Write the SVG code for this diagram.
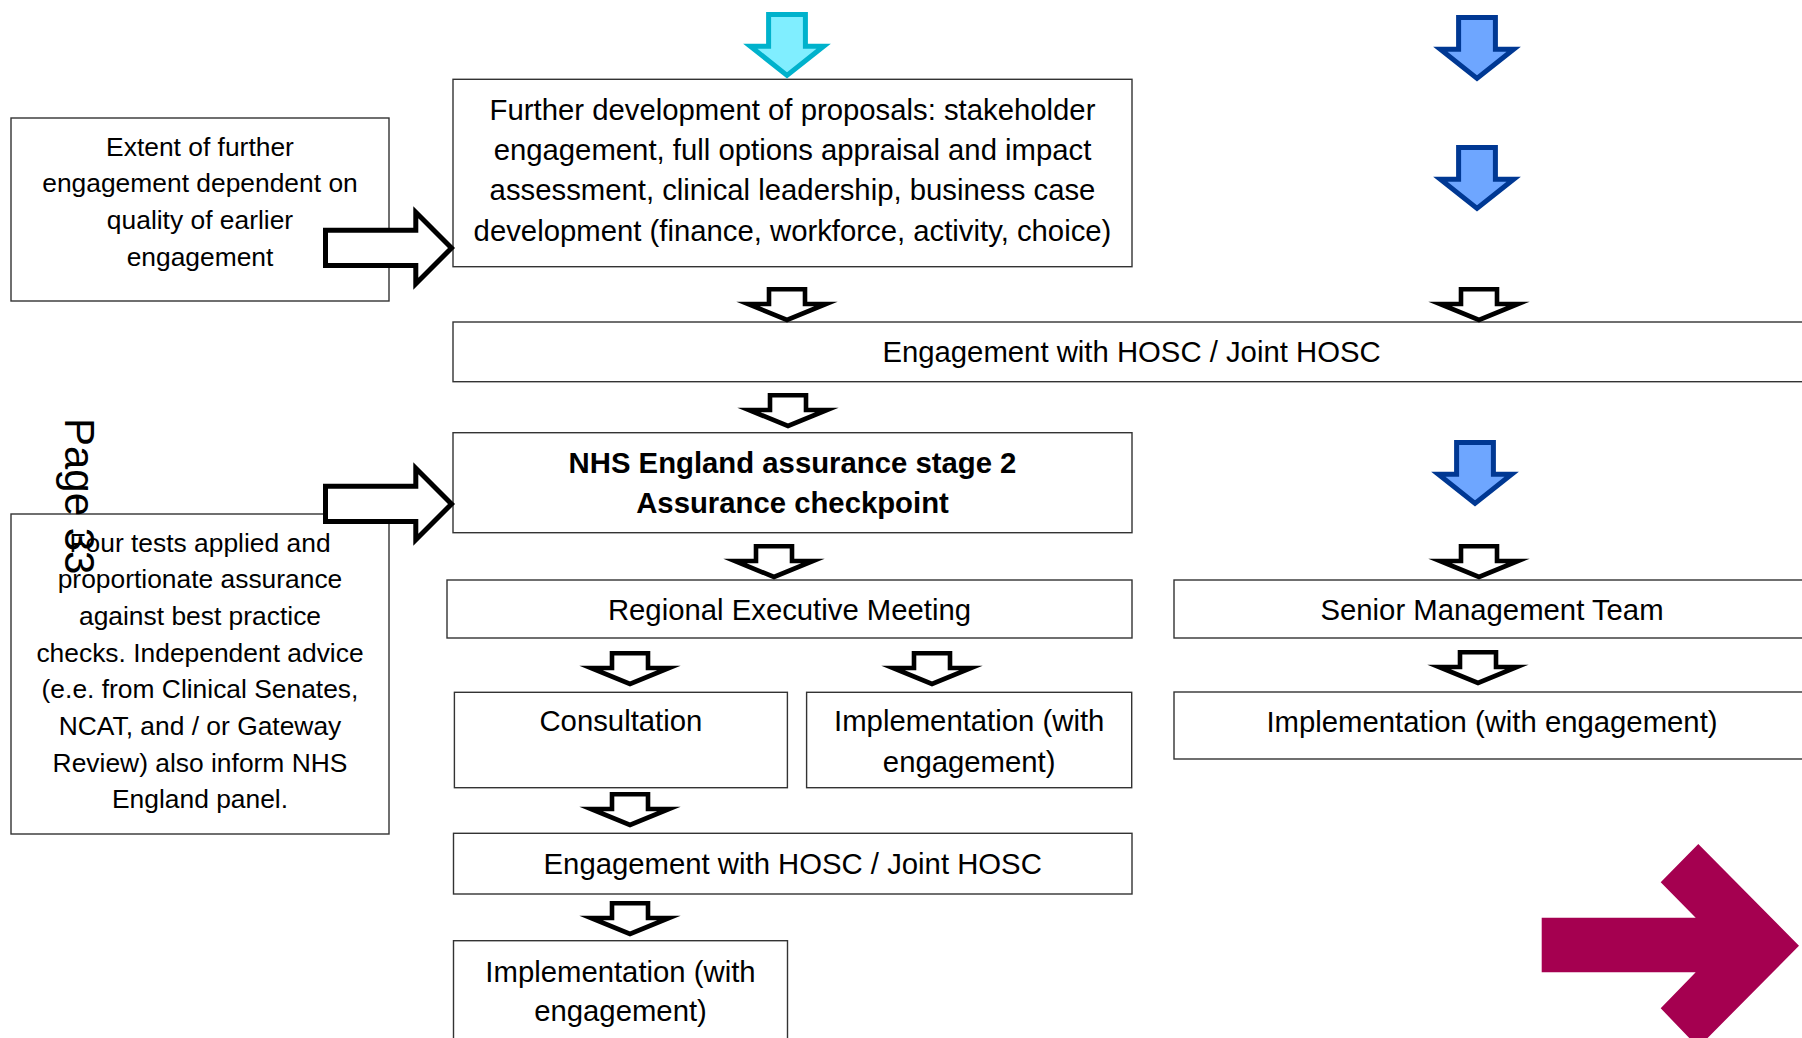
<svg xmlns="http://www.w3.org/2000/svg" xmlns:xlink="http://www.w3.org/1999/xlink" width="1802" height="1038" viewBox="0 0 1802 1038">
<style>
.box{fill:#fff;stroke:#333;stroke-width:1.4}
.t{font-family:"Liberation Sans",Arial,sans-serif;font-size:29.3px;fill:#000;text-anchor:middle}
.s{font-family:"Liberation Sans",Arial,sans-serif;font-size:26.4px;fill:#000;text-anchor:middle}
.b{font-weight:bold}
.ha{fill:#fff;stroke:#000;stroke-width:4.6;stroke-miterlimit:8}
.ra{fill:#fff;stroke:#000;stroke-width:5;stroke-miterlimit:8}
.blue{fill:#6EA6FF;stroke:#003893;stroke-width:5;stroke-miterlimit:8}
.cyan{fill:#80EEFF;stroke:#00B2CC;stroke-width:5;stroke-miterlimit:8}
.mag{fill:#A50050}
</style>
<defs>
<path id="hollow" d="M-18,2.3 H18 V17 H39 L0,33 L-39,17 H-18 Z"/>
<path id="big" d="M-18.4,2.5 H18.4 V34.2 H36.7 L0,63.4 L-36.7,34.2 H-18.4 Z"/>
<path id="right" d="M-126,-17.8 H-35.7 V-35.8 L0,0 L-35.7,35.8 V17.5 H-126 Z"/>
</defs>
<rect width="1802" height="1038" fill="#fff"/>

<g id="node-extent">
<rect class="box" x="11" y="118" width="378" height="183"/>
<text class="s" x="200" y="155.5">Extent of further</text>
<text class="s" x="200" y="192.2">engagement dependent on</text>
<text class="s" x="200" y="228.8">quality of earlier</text>
<text class="s" x="200" y="265.5">engagement</text>
</g>

<g id="node-further">
<rect class="box" x="453" y="79.3" width="679" height="187.4"/>
<text class="t" x="792.5" y="119.5">Further development of proposals: stakeholder</text>
<text class="t" x="792.5" y="160">engagement, full options appraisal and impact</text>
<text class="t" x="792.5" y="200.3">assessment, clinical leadership, business case</text>
<text class="t" x="792.5" y="240.6">development (finance, workforce, activity, choice)</text>
</g>

<g id="node-hosc1">
<rect class="box" x="453" y="322" width="1370" height="59.7"/>
<text class="t" x="1131.5" y="361.5">Engagement with HOSC / Joint HOSC</text>
</g>

<g id="node-nhs">
<rect class="box" x="453" y="432.7" width="679" height="100"/>
<text class="t b" x="792.5" y="472.7">NHS England assurance stage 2</text>
<text class="t b" x="792.5" y="512.7">Assurance checkpoint</text>
</g>

<g id="node-fourtests">
<rect class="box" x="11" y="514" width="378" height="320"/>
<text class="s" x="200" y="551.7">Four tests applied and</text>
<text class="s" x="200" y="588.3">proportionate assurance</text>
<text class="s" x="200" y="625">against best practice</text>
<text class="s" x="200" y="661.7">checks. Independent advice</text>
<text class="s" x="200" y="698.3">(e.e. from Clinical Senates,</text>
<text class="s" x="200" y="735">NCAT, and / or Gateway</text>
<text class="s" x="200" y="771.7">Review) also inform NHS</text>
<text class="s" x="200" y="808.3">England panel.</text>
</g>

<g id="node-regional">
<rect class="box" x="447" y="580" width="685" height="58"/>
<text class="t" x="789.5" y="619.5">Regional Executive Meeting</text>
</g>

<g id="node-consultation">
<rect class="box" x="454.4" y="692.3" width="333" height="95.4"/>
<text class="t" x="620.9" y="731">Consultation</text>
</g>

<g id="node-impl-mid">
<rect class="box" x="806.6" y="692.3" width="325.1" height="95.4"/>
<text class="t" x="969.2" y="731">Implementation (with</text>
<text class="t" x="969.2" y="772">engagement)</text>
</g>

<g id="node-hosc2">
<rect class="box" x="453.5" y="833.3" width="678.5" height="60.7"/>
<text class="t" x="792.7" y="873.8">Engagement with HOSC / Joint HOSC</text>
</g>

<g id="node-impl-bottom">
<rect class="box" x="453.5" y="940.7" width="334" height="130"/>
<text class="t" x="620.5" y="981.5">Implementation (with</text>
<text class="t" x="620.5" y="1021">engagement)</text>
</g>

<g id="node-senior">
<rect class="box" x="1174" y="580" width="660" height="58"/>
<text class="t" x="1492" y="619.5">Senior Management Team</text>
</g>

<g id="node-impl-right">
<rect class="box" x="1174" y="692" width="660" height="67"/>
<text class="t" x="1492" y="731.7">Implementation (with engagement)</text>
</g>

<g id="connectors">
<use href="#big" xlink:href="#big" class="cyan" transform="translate(787,12)"/>
<use href="#big" xlink:href="#big" class="blue" transform="translate(1477,15)"/>
<use href="#big" xlink:href="#big" class="blue" transform="translate(1477,145)"/>
<use href="#big" xlink:href="#big" class="blue" transform="translate(1475,440)"/>
<use href="#hollow" xlink:href="#hollow" class="ha" transform="translate(787,287)"/>
<use href="#hollow" xlink:href="#hollow" class="ha" transform="translate(1479,287)"/>
<use href="#hollow" xlink:href="#hollow" class="ha" transform="translate(788,393)"/>
<use href="#hollow" xlink:href="#hollow" class="ha" transform="translate(774,544)"/>
<use href="#hollow" xlink:href="#hollow" class="ha" transform="translate(1479,544)"/>
<use href="#hollow" xlink:href="#hollow" class="ha" transform="translate(630,651)"/>
<use href="#hollow" xlink:href="#hollow" class="ha" transform="translate(932,651)"/>
<use href="#hollow" xlink:href="#hollow" class="ha" transform="translate(1478,650)"/>
<use href="#hollow" xlink:href="#hollow" class="ha" transform="translate(630,792)"/>
<use href="#hollow" xlink:href="#hollow" class="ha" transform="translate(630,901)"/>
<use href="#right" xlink:href="#right" class="ra" transform="translate(451.5,248)"/>
<use href="#right" xlink:href="#right" class="ra" transform="translate(451.5,504)"/>
<polygon class="mag" points="1541.7,917.7 1695.7,917.7 1660.7,882.3 1698.3,844 1799,945.7 1698.3,1047.4 1660.7,1008.3 1695.7,972.3 1541.7,972.3"/>
</g>

<text x="0" y="0" transform="translate(65,418) rotate(90)" style="font-family:'Liberation Sans',Arial,sans-serif;font-size:42px;fill:#000">Page 33</text>
</svg>
